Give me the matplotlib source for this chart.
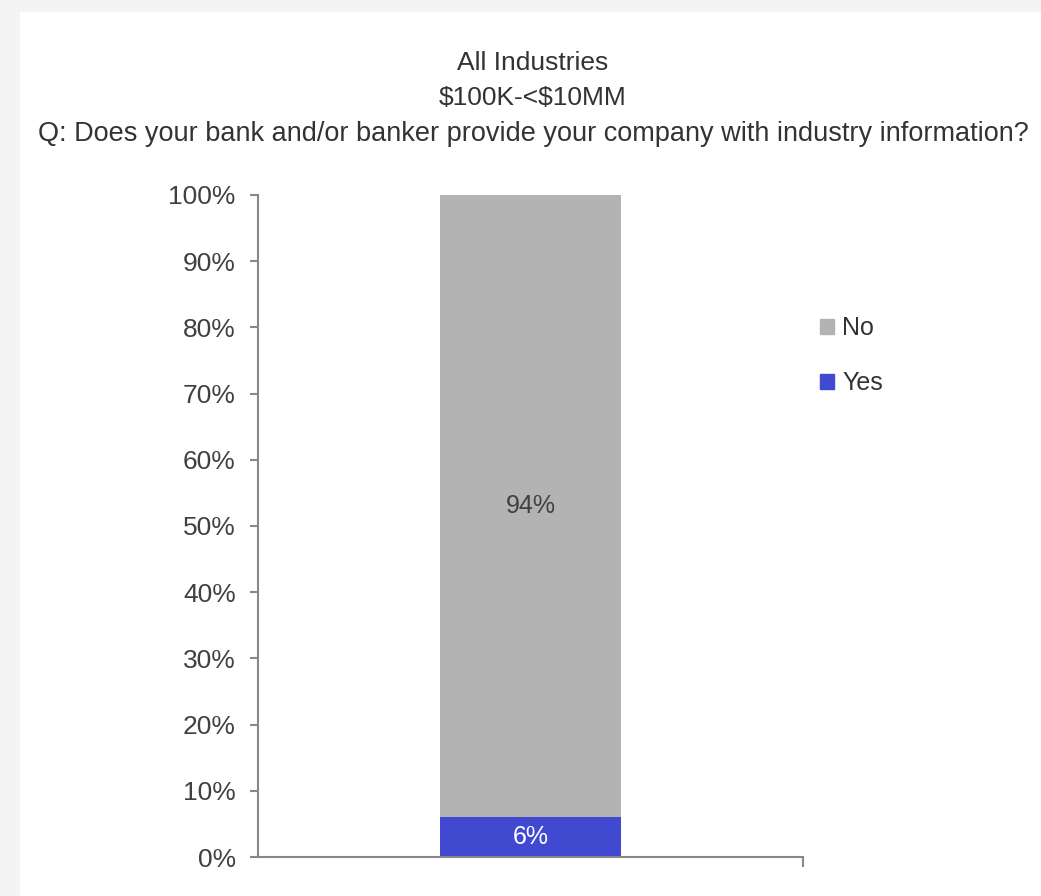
import numpy as np
import matplotlib.pyplot as plt
from matplotlib.patches import Patch

categories = ["All Industries"]
yes_vals = [6]
no_vals = [94]
yes_labels = ["6%"]
no_labels = ["94%"]
yticks = np.arange(0, 101, 10)

plt.rcParams['font.family'] = ['Liberation Sans', 'DejaVu Sans']

fig = plt.figure(figsize=(10.41, 8.96), dpi=100)
fig.patch.set_facecolor('#f4f4f4')
# white panel inside the light border
fig.add_artist(plt.Rectangle((20 / 1041, 0), 1 - 20 / 1041, 1 - 12 / 896,
                             transform=fig.transFigure, color='white', zorder=0))

ax = fig.add_axes([0.2478, 0.0435, 0.5236, 0.7389])
ax.set_facecolor('none')

x = np.arange(len(categories))
ax.bar(x, yes_vals, width=0.332, color='#4049d0', label='Yes')
ax.bar(x, no_vals, width=0.332, bottom=yes_vals, color='#b3b3b3', label='No')

for i in range(len(categories)):
    ax.text(x[i], yes_vals[i] / 2, yes_labels[i], ha='center', va='center',
            color='white', fontsize=18)
    ax.text(x[i], yes_vals[i] + no_vals[i] / 2, no_labels[i], ha='center',
            va='center', color='#404040', fontsize=18)

ax.set_xlim(-0.5, 0.5)
ax.set_ylim(0, 100)
ax.set_yticks(yticks)
ax.set_yticklabels([f"{v}%" for v in yticks])
ax.set_xticks([0.5])
ax.set_xticklabels([""])
ax.tick_params(axis='y', direction='out', length=6, width=1.5, color='#888888',
               labelsize=19, labelcolor='#404040', pad=10)
ax.tick_params(axis='x', direction='out', length=7, width=1.5, color='#888888')
for s in ['top', 'right']:
    ax.spines[s].set_visible(False)
for s in ['left', 'bottom']:
    ax.spines[s].set_color('#888888')
    ax.spines[s].set_linewidth(1.5)

handles = [Patch(color='#b3b3b3', label='No'), Patch(color='#4049d0', label='Yes')]
fig.legend(handles=handles, loc='center left', bbox_to_anchor=(0.766, 0.603),
           frameon=False, fontsize=18, handlelength=0.55, handleheight=0.55,
           handletextpad=0.35, labelspacing=1.25, labelcolor='#333333')

fig.text(0.512, 1 - 63 / 896, "All Industries", ha='center', va='center',
         fontsize=19, color='#333333')
fig.text(0.512, 1 - 98 / 896, r"\$100K-<\$10MM", ha='center', va='center',
         fontsize=19, color='#333333')
fig.text(0.512, 1 - 134 / 896,
         "Q: Does your bank and/or banker provide your company with industry information?",
         ha='center', va='center', fontsize=19.5, color='#333333')

fig.savefig('out.png', dpi=100, facecolor=fig.get_facecolor())
